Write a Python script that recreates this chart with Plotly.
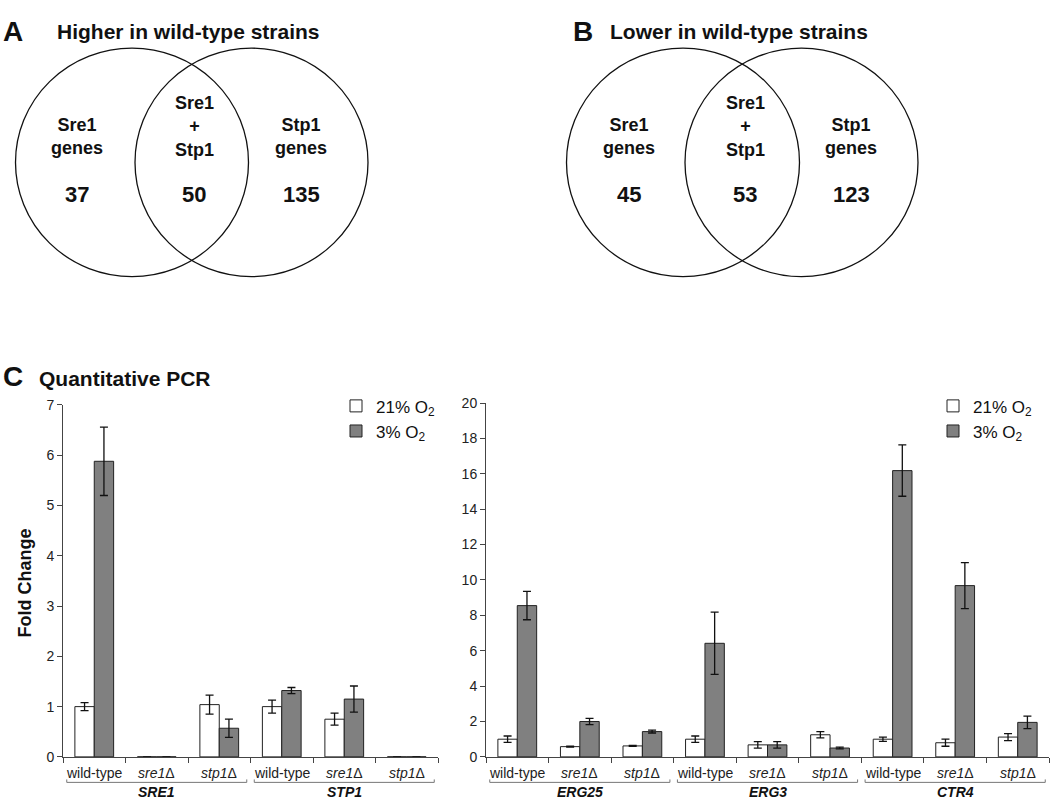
import plotly.graph_objects as go

W, H = 1050, 809

# ---- data ----
strains = ["wild-type", "<i>sre1</i>Δ", "<i>stp1</i>Δ"]

left_genes = ["SRE1", "STP1"]
left_21 = [1.0, 0.0, 1.04, 1.0, 0.75, 0.0]
left_21_err = [0.08, 0.0, 0.19, 0.13, 0.12, 0.0]
left_3 = [5.88, 0.0, 0.57, 1.32, 1.15, 0.0]
left_3_err = [0.68, 0.0, 0.18, 0.06, 0.26, 0.0]

right_genes = ["ERG25", "ERG3", "CTR4"]
right_21 = [1.0, 0.58, 0.62, 1.0, 0.68, 1.25, 1.0, 0.8, 1.12]
right_21_err = [0.18, 0.03, 0.03, 0.18, 0.18, 0.18, 0.12, 0.2, 0.2]
right_3 = [8.55, 2.0, 1.43, 6.42, 0.68, 0.5, 16.18, 9.68, 1.95]
right_3_err = [0.8, 0.18, 0.08, 1.76, 0.18, 0.05, 1.45, 1.3, 0.35]

venn_titles = ["Higher in wild-type strains", "Lower in wild-type strains"]
venn_panels = ["A", "B"]
venn_labels = ["Sre1<br>genes", "Sre1<br>+<br>Stp1", "Stp1<br>genes"]
venn_counts = [[37, 50, 135], [45, 53, 123]]


def fx(px):
    return px / W


def fy(py):
    return 1 - py / H


FONT = "Arial, Liberation Sans, sans-serif"
fig = go.Figure()


def add_bars(x_ref, y_ref, legend, v21, e21, v3, e3):
    xs = list(range(len(v21)))
    fig.add_trace(go.Bar(
        x=xs, y=v21, name="21% O<sub>2</sub>", xaxis=x_ref, yaxis=y_ref, legend=legend,
        marker=dict(color="white", line=dict(color="#222", width=1)),
        error_y=dict(type="data", array=e21, color="#111", thickness=1.3, width=4),
    ))
    fig.add_trace(go.Bar(
        x=xs, y=v3, name="3% O<sub>2</sub>", xaxis=x_ref, yaxis=y_ref, legend=legend,
        marker=dict(color="#808080", line=dict(color="#222", width=1)),
        error_y=dict(type="data", array=e3, color="#111", thickness=1.3, width=4),
    ))


add_bars("x", "y", "legend", left_21, left_21_err, left_3, left_3_err)
add_bars("x2", "y2", "legend2", right_21, right_21_err, right_3, right_3_err)

axis_style = dict(showline=True, linecolor="#444", linewidth=1, ticks="outside",
                  ticklen=5, tickcolor="#444", showgrid=False, zeroline=False,
                  tickfont=dict(family=FONT, size=14, color="#222"))

n_left = len(left_21)
n_right = len(right_21)

fig.update_layout(
    width=W, height=H, margin=dict(l=0, r=0, t=0, b=0),
    paper_bgcolor="white", plot_bgcolor="rgba(0,0,0,0)",
    barmode="group", bargap=0.38, bargroupgap=0,
    font=dict(family=FONT, color="#111"),
    xaxis=dict(domain=[fx(63), fx(438)], range=[-0.5, n_left - 0.5],
               tickvals=[i - 0.5 for i in range(n_left + 1)], showticklabels=False,
               anchor="y", **axis_style),
    yaxis=dict(domain=[fy(764), fy(405)], range=[0, 7], dtick=1, anchor="x",
               **axis_style),
    xaxis2=dict(domain=[fx(486), fx(1049)], range=[-0.5, n_right - 0.5],
                tickvals=[i - 0.5 for i in range(n_right + 1)], showticklabels=False,
                anchor="y2", **axis_style),
    yaxis2=dict(domain=[fy(764), fy(403)], range=[0, 20], dtick=2, anchor="x2",
                **axis_style),
    xaxis3=dict(domain=[0, 1], range=[0, W], visible=False, anchor="y3"),
    yaxis3=dict(domain=[0, 1], range=[H, 0], visible=False, anchor="x3"),
    legend=dict(x=fx(336), y=fy(388), xanchor="left", yanchor="top",
                font=dict(family=FONT, size=17, color="#111"), bgcolor="rgba(0,0,0,0)",
                itemwidth=30, tracegroupgap=0),
    legend2=dict(x=fx(933), y=fy(388), xanchor="left", yanchor="top",
                 font=dict(family=FONT, size=17, color="#111"), bgcolor="rgba(0,0,0,0)",
                 itemwidth=30, tracegroupgap=0),
    showlegend=True,
)

annotations = []
shapes = []


def add_group_labels(x_ref, genes):
    for g, gene in enumerate(genes):
        for s, strain in enumerate(strains):
            annotations.append(dict(x=g * 3 + s, y=fy(780), xref=x_ref, yref="paper",
                                    yanchor="middle", text=strain, showarrow=False,
                                    font=dict(family=FONT, size=14, color="#222")))
        annotations.append(dict(x=g * 3 + 1, y=fy(800), xref=x_ref, yref="paper",
                                yanchor="middle", text=f"<b><i>{gene}</i></b>",
                                showarrow=False,
                                font=dict(family=FONT, size=14, color="#111")))
        x0, x1 = g * 3 - 0.44, g * 3 + 2.44
        ya, yb = fy(787), fy(790)
        shapes.append(dict(type="path", xref=x_ref, yref="paper",
                           path=f"M {x0},{ya} L {x0},{yb} L {x1},{yb} L {x1},{ya}",
                           line=dict(color="#777", width=1)))


add_group_labels("x", left_genes)
add_group_labels("x2", right_genes)

# Venn diagrams (in pixel-space helper axes x3/y3)
venn_cx = [(132, 251.5), (683, 801.5)]
venn_cy = 157.5
venn_r = 116.5
title_x = [55, 608]
panel_x = [13, 583]
label_x = [(77, 194, 301), (629, 745, 851)]
label_y = [131, 121, 131]
for i in range(2):
    for cx in venn_cx[i]:
        shapes.append(dict(type="circle", xref="x3", yref="y3",
                           x0=cx - venn_r, x1=cx + venn_r,
                           y0=venn_cy - venn_r, y1=venn_cy + venn_r,
                           line=dict(color="#111", width=1.3)))
    annotations.append(dict(x=panel_x[i], y=24, xref="x3", yref="y3",
                            text=f"<b>{venn_panels[i]}</b>",
                            showarrow=False, font=dict(family=FONT, size=28, color="#111")))
    annotations.append(dict(x=title_x[i], y=24, xref="x3", yref="y3", xanchor="left",
                            text=f"<b>{venn_titles[i]}</b>", showarrow=False,
                            font=dict(family=FONT, size=21, color="#111")))
    for j in range(3):
        annotations.append(dict(x=label_x[i][j], y=label_y[j], xref="x3", yref="y3",
                                text=f"<b>{venn_labels[j]}</b>", showarrow=False,
                                font=dict(family=FONT, size=18, color="#111")))
        annotations.append(dict(x=label_x[i][j], y=190, xref="x3", yref="y3",
                                text=f"<b>{venn_counts[i][j]}</b>", showarrow=False,
                                font=dict(family=FONT, size=22, color="#111")))

annotations.append(dict(x=13, y=376, xref="x3", yref="y3", text="<b>C</b>",
                        showarrow=False, font=dict(family=FONT, size=28, color="#111")))
annotations.append(dict(x=37, y=378, xref="x3", yref="y3", xanchor="left",
                        text="<b>Quantitative PCR</b>", showarrow=False,
                        font=dict(family=FONT, size=21, color="#111")))
annotations.append(dict(x=25, y=587, xref="x3", yref="y3", text="<b>Fold Change</b>",
                        textangle=-90, showarrow=False,
                        font=dict(family=FONT, size=18, color="#111")))

fig.update_layout(annotations=annotations, shapes=shapes)
fig.write_html(
    "out.html",
    config={"displayModeBar": False},
    post_script=("document.body.style.margin='0';"
                 "var d=document.getElementById('{plot_id}');"
                 "d.style.position='fixed';d.style.top='0';d.style.left='0';"),
)
